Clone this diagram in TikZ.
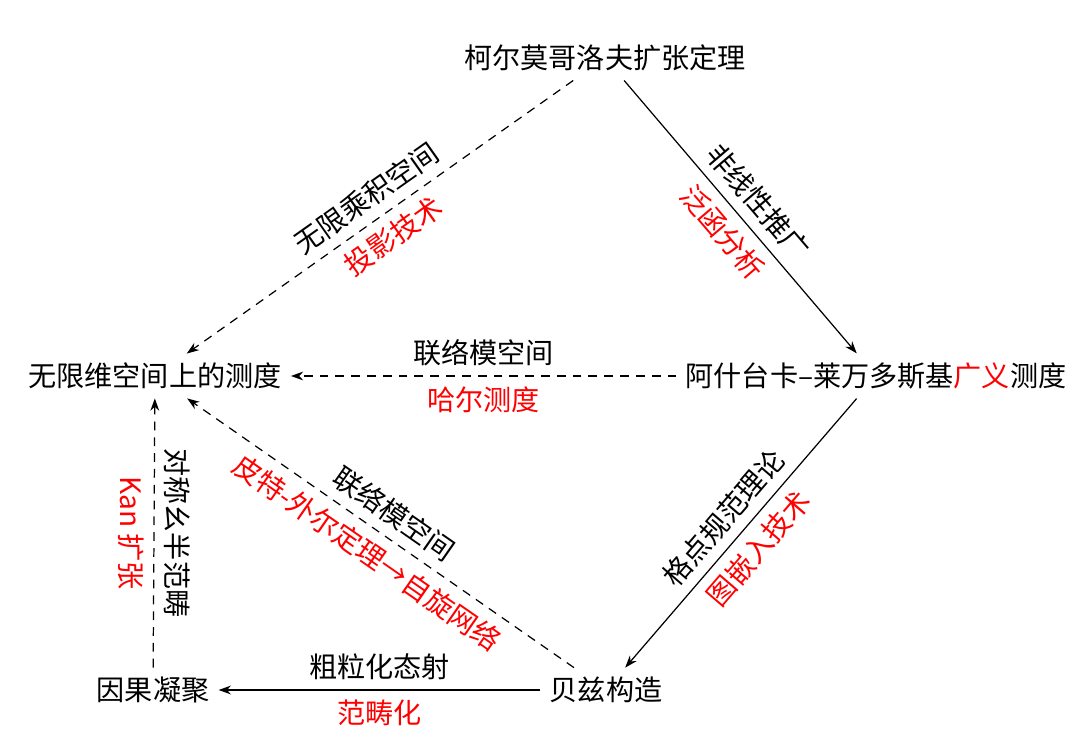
\documentclass[tikz,border=0pt]{standalone}
\usepackage{fontspec}
\setmainfont{Noto Sans CJK SC}
\usetikzlibrary{arrows.meta}

\begin{document}
\begin{tikzpicture}[line width=0.7pt, >={Stealth[length=7pt,width=5pt]},
    concept/.style={inner sep=5pt, font=\fontsize{16}{19}\selectfont},
    tag/.style={inner sep=5.5pt, font=\fontsize{16}{19}\selectfont},
    hint/.style={tag, text=red},
    loose/.style={dash pattern=on 5pt off 4pt}]
    \useasboundingbox (0,0) rectangle (21.6,15.1);
    % concepts
    \node[concept] (kolmo)   at (12.10,13.94) {柯尔莫哥洛夫扩张定理};
    \node[concept] (infmeas) at (3.10,7.58)   {无限维空间上的测度};
    \node[concept] (almeas)  at (17.52,7.58)  {阿什台卡–莱万多斯基\textcolor{red}{广义}测度};
    \node[concept] (causal)  at (3.06,1.30)   {因果凝聚};
    \node[concept] (baez)    at (12.12,1.30)  {贝兹构造};
    % links: black = idea, red = tool
    \draw[->, loose] (kolmo) -- node[tag, midway, sloped, above] (t1) {无限乘积空间}
        node[hint, midway, sloped, below] (h1) {投影技术} (infmeas);
    \draw[->] (kolmo) -- node[tag, midway, sloped, above] (t2) {非线性推广}
        node[hint, midway, sloped, below] (h2) {泛函分析} (almeas);
    \draw[->, loose] (almeas) -- node[tag, midway, above] (t3) {联络模空间}
        node[hint, midway, below] (h3) {哈尔测度} (infmeas);
    \draw[->] (almeas) -- node[tag, midway, sloped, above] (t4) {格点规范理论}
        node[hint, midway, sloped, below] (h4) {图嵌入技术} (baez);
    \draw[->, loose] (baez) -- node[tag, midway, sloped, above] (t5) {联络模空间}
        node[hint, midway, sloped, below] (h5) {皮特-外尔定理→自旋网络} (infmeas);
    \draw[->] (baez) -- node[tag, midway, above] (t6) {粗粒化态射}
        node[hint, midway, below] (h6) {范畴化} (causal);
    \draw[->, loose] (causal) -- node[tag, midway, rotate=-90, above] (t7) {对称幺半范畴}
        node[hint, midway, rotate=-90, below] (h7) {Kan 扩张} (infmeas);
\end{tikzpicture}
\end{document}
